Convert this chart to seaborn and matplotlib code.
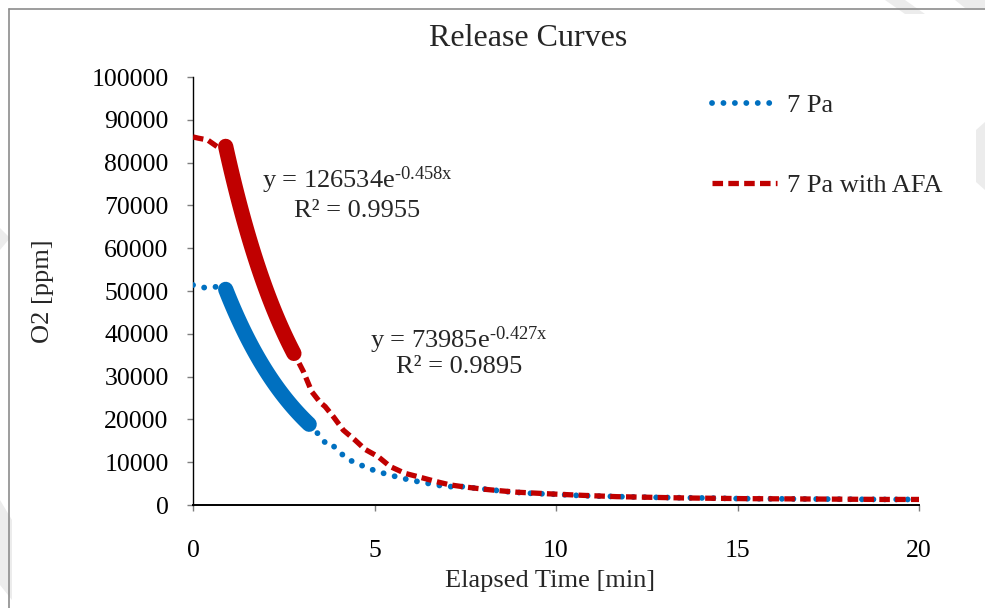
import numpy as np
import pandas as pd
import matplotlib
matplotlib.use("Agg")
import matplotlib.pyplot as plt
import seaborn as sns
from matplotlib.patches import Polygon
from matplotlib.lines import Line2D

# Measured O2 release, 7 Pa run (time in minutes, O2 in ppm)
time_7pa = [0, 0.3, 0.6, 0.9, 1.2, 1.5, 1.8, 2.1, 2.4, 2.7, 3.0, 3.25, 3.48, 3.68,
            3.82, 4.02, 4.26, 4.55, 4.85, 5.17, 5.47, 5.79, 6.12, 6.44, 6.76, 7.08,
            7.41, 7.72, 8.04, 8.37, 8.69, 9.0, 9.36, 9.68, 10.02, 10.66, 11.3, 12,
            13, 14, 15, 16, 17, 18, 19, 20]
o2_7pa = [51400, 50800, 51000, 50500, 44300, 39000, 34300, 30200, 26500, 23400,
          20600, 18800, 16200, 14200, 14200, 12500, 10700, 9600, 8500, 7600, 6900,
          6200, 5600, 5100, 4600, 4300, 4300, 4000, 3700, 3400, 3100, 2900, 2700,
          2600, 2500, 2200, 2050, 1900, 1750, 1650, 1500, 1450, 1400, 1350, 1300,
          1300]

# Measured O2 release, 7 Pa with AFA
time_afa = [0, 0.15, 0.4, 0.67, 0.93, 1.2, 1.5, 1.8, 2.1, 2.4, 2.81, 3.04, 3.27,
            3.5, 3.64, 3.87, 4.14, 4.46, 4.74, 5.1, 5.43, 5.84, 6.25, 6.71, 7.08,
            7.5, 8.0, 8.5, 8.91, 9.83, 10.75, 11.67, 12.59, 13.5, 14.43, 15.25, 16,
            17, 18, 19, 20]
o2_afa = [86000, 85700, 85300, 83700, 84500, 73000, 63500, 55500, 48500, 42000,
          35000, 31200, 26500, 24000, 23000, 20600, 17500, 15200, 13000, 11300,
          9000, 7400, 6500, 5450, 4700, 4200, 3700, 3300, 3000, 2600, 2250, 1950,
          1800, 1650, 1560, 1480, 1450, 1400, 1350, 1300, 1300]

# Exponential fits y = a * exp(b * x) and the interval each was fitted on
fit_7pa = {"a": 73985, "b": -0.427, "r2": 0.9895, "x0": 0.9, "x1": 3.2}
fit_afa = {"a": 126534, "b": -0.458, "r2": 0.9955, "x0": 0.9, "x1": 2.78}

series_labels = ["7 Pa", "7 Pa with AFA"]
x_ticks = [0, 5, 10, 15, 20]
y_ticks = list(range(0, 100001, 10000))

BLUE = "#0070C0"
RED = "#C00000"

sns.set_theme(style="white")
plt.rcParams["font.family"] = ["Liberation Serif", "DejaVu Serif"]
plt.rcParams["mathtext.fontset"] = "custom"
plt.rcParams["mathtext.rm"] = "Liberation Serif"
plt.rcParams["mathtext.it"] = "Liberation Serif:italic"

W, H = 985, 608
fig = plt.figure(figsize=(W / 100, H / 100), dpi=100)
fig.patch.set_facecolor("white")


def fx(px):
    return px / W


def fy(py):
    return 1 - py / H


# faint background page marks along the edges
marks = [
    [(885, 0), (905, 0), (925, 14), (905, 14)],
    [(955, 0), (985, 0), (985, 8), (965, 8)],
    [(0, 500), (12, 520), (12, 600), (0, 585)],
    [(0, 228), (10, 238), (0, 250)],
    [(976, 130), (985, 122), (985, 190), (976, 182)],
]
for poly in marks:
    fig.patches.append(Polygon([(fx(x), fy(y)) for x, y in poly], closed=True,
                               transform=fig.transFigure, facecolor="#ececec",
                               edgecolor="none", zorder=0))

# chart-area frame (left and top edges)
fig.add_artist(Line2D([fx(9), fx(9)], [fy(9), 0], transform=fig.transFigure,
                      color="#8c8c8c", lw=1.2))
fig.add_artist(Line2D([fx(9), 1], [fy(9), fy(9)], transform=fig.transFigure,
                      color="#8c8c8c", lw=1.2))

ax = fig.add_axes([fx(193), fy(505), (919 - 193) / W, (505 - 77) / H])
ax.set_facecolor("none")

df_7pa = pd.DataFrame({"t": time_7pa, "o2": o2_7pa})
df_afa = pd.DataFrame({"t": time_afa, "o2": o2_afa})

sns.lineplot(data=df_7pa, x="t", y="o2", ax=ax, color=BLUE, lw=4.2,
             linestyle=(0, (0.01, 1.95)), dash_capstyle="round",
             estimator=None, label=series_labels[0], zorder=3)
sns.lineplot(data=df_afa, x="t", y="o2", ax=ax, color=RED, lw=3.8,
             linestyle=(0, (2.0, 1.0)), dash_capstyle="butt",
             estimator=None, label=series_labels[1], zorder=3)

# trendlines over the fitted interval
for fit, col in ((fit_7pa, BLUE), (fit_afa, RED)):
    xs = np.linspace(fit["x0"], fit["x1"], 80)
    tdf = pd.DataFrame({"t": xs, "o2": fit["a"] * np.exp(fit["b"] * xs)})
    sns.lineplot(data=tdf, x="t", y="o2", ax=ax, color=col, lw=11,
                 solid_capstyle="round", estimator=None, legend=False, zorder=4)

ax.set_xlim(0, 20)
ax.set_ylim(0, 100000)
ax.set_xticks(x_ticks)
ax.set_yticks(y_ticks)
ax.set_xticklabels([str(v) for v in x_ticks])
ax.set_yticklabels([str(v) for v in y_ticks])

for s in ("top", "right"):
    ax.spines[s].set_visible(False)
ax.spines["left"].set_color("black")
ax.spines["left"].set_linewidth(1.0)
ax.spines["bottom"].set_color("black")
ax.spines["bottom"].set_linewidth(1.4)

ax.tick_params(axis="both", which="major", direction="out", length=4.5,
               width=1.0, color="#7f7f7f", labelsize=18.5, labelcolor="black",
               bottom=True, left=True)
ax.tick_params(axis="x", pad=21)
ax.tick_params(axis="y", pad=13)

ax.set_xlabel("Elapsed Time [min]", fontsize=19, va="center")
ax.xaxis.set_label_coords((550 - 193) / 726, (505 - 581) / 428)
ax.set_ylabel("O2 [ppm]", fontsize=19, va="center")
ax.yaxis.set_label_coords((43 - 193) / 726, 0.5)

fig.text(fx(528), fy(38), "Release Curves", ha="center", va="center",
         fontsize=23)


# fit equations, two centred lines each
def eq_text(fit, xc, y1, y2):
    exp_str = "{:.3f}x".format(fit["b"]).replace("-", "\u2010")
    ax.text(xc, y1, "y = {}e".format(fit["a"]) + r"$^{\mathrm{" + exp_str + "}}$",
            ha="center", va="baseline", fontsize=19, zorder=5)
    ax.text(xc, y2, "R² = {:.4f}".format(fit["r2"]), ha="center",
            va="baseline", fontsize=19, zorder=5)


eq_text(fit_afa, 4.52, 74000, 67360)
eq_text(fit_7pa, 7.33, 36700, 30840)

handles, labels = ax.get_legend_handles_labels()
ax.legend(handles[:2], labels[:2], loc="upper left",
          bbox_to_anchor=(fx(712), fy(94)), bbox_transform=fig.transFigure,
          frameon=False, fontsize=19, handlelength=2.46, handletextpad=0.38,
          labelspacing=2.14, borderpad=0, borderaxespad=0)

fig.savefig("out.png", dpi=100, facecolor="white")
